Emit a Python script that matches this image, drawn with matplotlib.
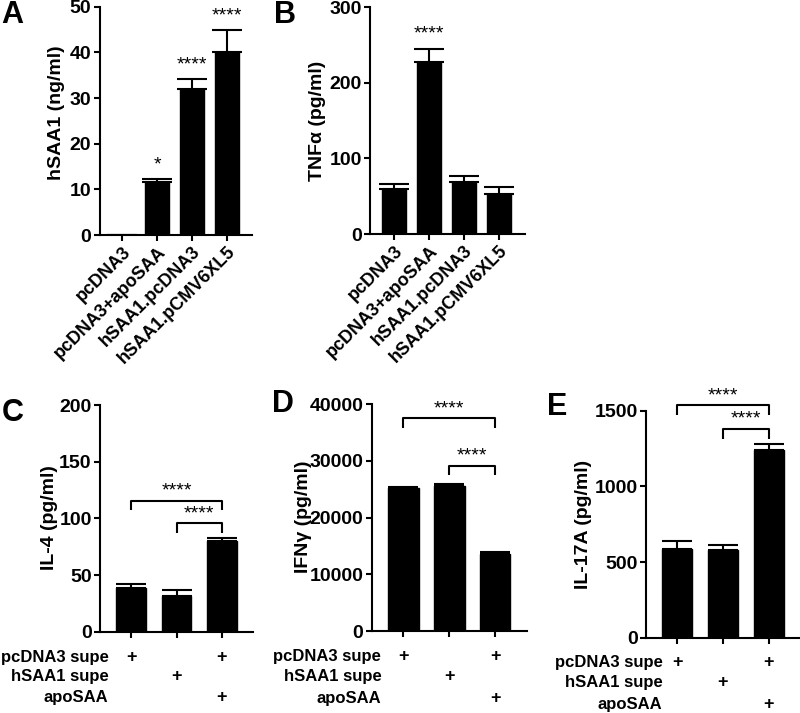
import matplotlib
matplotlib.use("Agg")
import matplotlib.pyplot as plt
from matplotlib.transforms import blended_transform_factory

plt.rcParams['font.family'] = ['Liberation Sans', 'DejaVu Sans']
plt.rcParams['font.weight'] = 'bold'

W, H = 800, 713

# ---------------- data ----------------
ab_categories = ["pcDNA3", "pcDNA3+apoSAA", "hSAA1.pcDNA3", "hSAA1.pCMV6XL5"]

a_vals = [0, 11.7, 31.9, 40.1]
a_err = [0, 0.5, 2.3, 4.8]
a_sig = ["", "*", "****", "****"]

b_vals = [59, 227, 69, 53]
b_err = [6.6, 17.6, 7.0, 9.4]
b_sig = ["", "****", "", ""]

cde_rows = ["pcDNA3 supe", "hSAA1 supe", "apoSAA"]
cde_plus = [[1, 0, 1], [0, 1, 0], [0, 0, 1]]

c_vals = [38.2, 31.8, 80.2]
c_err = [4.3, 5.0, 2.2]
d_vals = [25300, 25530, 13600]
d_err = [180, 350, 350]
e_vals = [585, 579, 1243]
e_err = [55, 33, 40]

# brackets: (x1, x2, height, drop_to)
c_brackets = [(0, 2, 115.6, 107.4), (1, 2, 95.6, 86.8)]
d_brackets = [(0, 2, 37550, 35880), (1, 2, 29180, 27530)]
e_brackets = [(0, 2, 1535, 1469), (1, 2, 1382, 1316)]

LW = 1.5
STAR_FS = 14


def add_ax(l, r, t, b):
    return fig.add_axes([l / W, 1 - b / H, (r - l) / W, (b - t) / H])


def style(ax, ymax, yticks):
    for s in ['top', 'right']:
        ax.spines[s].set_visible(False)
    for s in ['left', 'bottom']:
        ax.spines[s].set_linewidth(LW)
    ax.set_ylim(0, ymax)
    ax.set_yticks(yticks)
    ax.tick_params(axis='both', direction='out', length=4, width=LW,
                   labelsize=14, pad=2)
    for lab in ax.get_yticklabels():
        lab.set_fontweight('bold')


def bars(ax, vals, errs, width):
    x = list(range(len(vals)))
    ax.bar(x, vals, width=width, color='black', edgecolor='black', zorder=2)
    ax.errorbar(x, vals, yerr=[[0] * len(vals), errs], fmt='none',
                ecolor='black', elinewidth=LW, capsize=11, capthick=LW, zorder=3)
    ax.set_xticks(x)


fig = plt.figure(figsize=(W / 100, H / 100), dpi=100)

# ---------- Panel A ----------
axA = add_ax(99.5, 252, 6.7, 235)
bars(axA, a_vals, a_err, 0.68)
style(axA, 50, [0, 10, 20, 30, 40, 50])
axA.set_xlim(-0.66, 3.72)
axA.set_xticklabels(ab_categories, rotation=45, ha='right',
                    rotation_mode='anchor', fontsize=13, fontweight='bold')
for i, s in enumerate(a_sig):
    if s:
        axA.text(i, a_vals[i] + a_err[i] + 1.2, s, ha='center', va='bottom',
                 fontsize=STAR_FS, fontweight='normal')

# ---------- Panel B ----------
axB = add_ax(370, 525, 7, 234)
bars(axB, b_vals, b_err, 0.68)
style(axB, 300, [0, 100, 200, 300])
axB.set_xlim(-0.69, 3.74)
axB.set_xticklabels(ab_categories, rotation=45, ha='right',
                    rotation_mode='anchor', fontsize=13, fontweight='bold')
for i, s in enumerate(b_sig):
    if s:
        axB.text(i, b_vals[i] + b_err[i] + 8, s, ha='center', va='bottom',
                 fontsize=STAR_FS, fontweight='normal')


def cde_panel(l, r, t, b, vals, errs, ymax, yticks, brackets, label_x, row_off):
    ax = add_ax(l, r, t, b)
    bars(ax, vals, errs, 0.66)
    style(ax, ymax, yticks)
    ax.set_xlim(-0.69, 2.69)
    ax.set_xticklabels([])
    for (x1, x2, hgt, drop) in brackets:
        ax.plot([x1, x1, x2, x2], [drop, hgt, hgt, drop], color='black',
                lw=LW, clip_on=False, solid_capstyle='butt')
        ax.text((x1 + x2) / 2, hgt + ymax * 0.005, "****", ha='center',
                va='bottom', fontsize=STAR_FS, fontweight='normal', clip_on=False)
    tr = blended_transform_factory(ax.transData, fig.transFigure)
    for ri, row in enumerate(cde_rows):
        yfig = 1 - (b + row_off[ri]) / H
        ax.text(label_x, yfig, row, transform=tr, ha='right', va='center',
                fontsize=12, fontweight='bold')
        for j, p in enumerate(cde_plus[ri]):
            if p:
                ax.text(j, yfig, "+", transform=tr, ha='center', va='center',
                        fontsize=13, fontweight='bold')
    return ax


axC = cde_panel(100, 253, 405, 631.7, c_vals, c_err, 200, [0, 50, 100, 150, 200],
                c_brackets, -0.5, [26, 45, 66])
axD = cde_panel(371.7, 527, 404.3, 631, d_vals, d_err, 40000,
                [0, 10000, 20000, 30000, 40000], d_brackets, -0.48, [26, 46, 67])
axE = cde_panel(646, 800, 410.7, 638, e_vals, e_err, 1500, [0, 500, 1000, 1500],
                e_brackets, -0.33, [24, 45, 67])

# ---------- y labels ----------
ylabels = [("hSAA1 (ng/ml)", 57, 113), ("TNF\u03b1 (pg/ml)", 318, 121),
           ("IL-4 (pg/ml)", 49, 518), ("IFN\u03b3 (pg/ml)", 304, 517),
           ("IL-17A (pg/ml)", 583, 524)]
for txt, x, y in ylabels:
    fig.text(x / W, 1 - y / H, txt, rotation=90, ha='center', va='center',
             fontsize=14, fontweight='bold')

# ---------- panel letters ----------
letters = [("A", 12, 15), ("B", 285, 15), ("C", 13, 413), ("D", 283, 404),
           ("E", 557, 407)]
for txt, x, y in letters:
    fig.text(x / W, 1 - y / H, txt, ha='center', va='center', fontsize=22,
             fontweight='bold')

fig.savefig("out.png", dpi=100)
